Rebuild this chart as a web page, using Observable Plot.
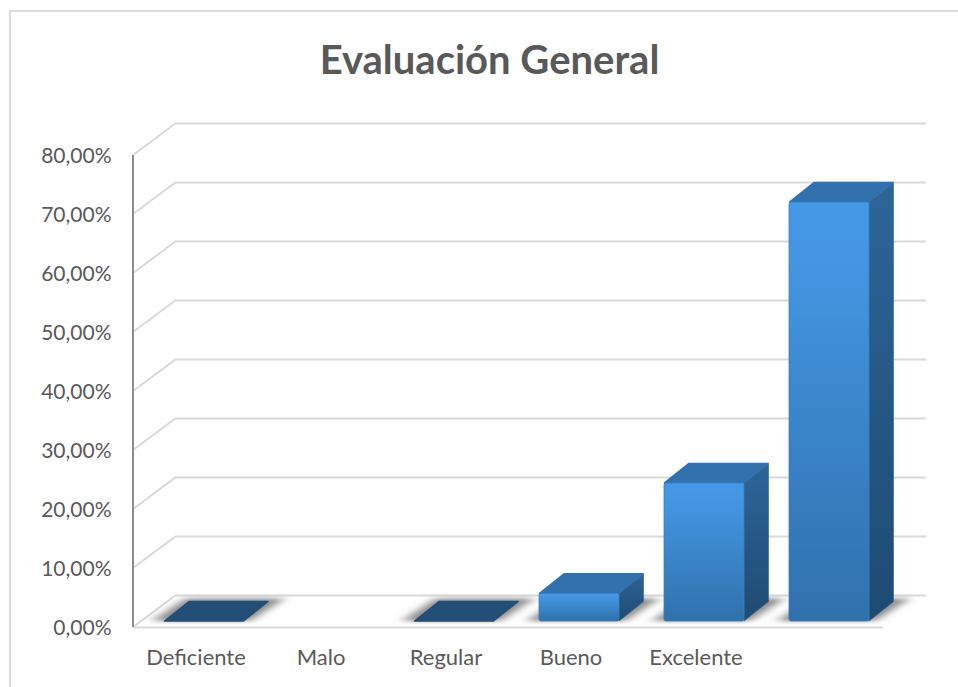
<!DOCTYPE html>
<html lang="es">
<head>
<meta charset="utf-8">
<script src="https://cdn.jsdelivr.net/npm/d3@7"></script>
<script src="https://cdn.jsdelivr.net/npm/@observablehq/plot@0.6"></script>
<style>
  html, body { margin: 0; padding: 0; background: #fff; overflow: hidden; }
  #frame { position: absolute; left: 9px; top: 10px; right: 0; bottom: 0;
           border-left: 2px solid #dcdcdc; border-top: 2px solid #dcdcdc; pointer-events: none; }
  #title { height: 100px; box-sizing: border-box; padding-top: 36px; padding-left: 21px; text-align: center;
           font: 700 40px/46px Lato, sans-serif; color: #595959; }
  #chart svg { display: block; }
</style>
</head>
<body>
<div id="frame"></div>
<div id="title">Evaluación General</div>
<div id="chart"></div>
<script>
const categories = ["Deficiente", "Malo", "Regular", "Bueno", "Excelente", " "];
const values = [0, null, 0, 4.7, 23.4, 71];
const yTicks = [0, 10, 20, 30, 40, 50, 60, 70, 80];

const rows = categories.map((category, i) => ({category, value: values[i]}));
const drawn = rows.filter(d => d.value !== null);

// Pseudo-3D projection, in pixels
const wall = {dx: 43, dy: -32};   // depth of the floor
const bar = {dx: 24.5, dy: -19.5};    // depth of a column
const inset = {dx: 8.5, dy: -6};    // where a column stands on the floor

const fmt = d => d.toFixed(2).replace(".", ",") + "%";
const poly = pts => pts.map(p => p.join(",")).join(" ");

const defs = () => {
  const g = d3.create("svg:defs");
  const grad = (id, stops) => {
    const l = g.append("linearGradient").attr("id", id).attr("x1", 0).attr("x2", 0).attr("y1", 0).attr("y2", 1);
    stops.forEach(([o, c]) => l.append("stop").attr("offset", o).attr("stop-color", c));
  };
  grad("front", [[0, "#4498e6"], [0.12, "#4496e3"], [1, "#2f71ac"]]);
  grad("side", [[0, "#2d6598"], [1, "#1e4a72"]]);
  const f = g.append("filter").attr("id", "soft").attr("x", "-30%").attr("y", "-30%").attr("width", "160%").attr("height", "160%");
  f.append("feGaussianBlur").attr("stdDeviation", "6 2");
  return g.node();
};

const walls = (index, {y}, channels, {marginLeft}) => {
  const g = d3.create("svg:g").attr("stroke", "#d9d9d9").attr("stroke-width", 2);
  for (const t of yTicks) {
    g.append("line")
      .attr("x1", marginLeft).attr("x2", marginLeft + wall.dx)
      .attr("y1", y(t)).attr("y2", y(t) + wall.dy);
  }
  return g.node();
};

const footprint = (d, {x, y}) => {
  const x0 = x(d.category) + inset.dx, w = x.bandwidth(), y0 = y(0) + inset.dy;
  return {x0, w, y0, top: y(d.value) + inset.dy};
};

const shadows = (index, scales) => {
  const g = d3.create("svg:g").attr("filter", "url(#soft)").attr("fill", "#8a8a8a");
  for (const d of drawn) {
    const {x0, w, y0} = footprint(d, scales);
    g.append("polygon").attr("points", poly([
      [x0 - 12, y0], [x0 + w + 6, y0],
      [x0 + w + bar.dx + 16, y0 + bar.dy - 3], [x0 + bar.dx - 3, y0 + bar.dy - 3]
    ]));
  }
  return g.node();
};

const sides = (index, scales) => {
  const g = d3.create("svg:g");
  for (const d of drawn.filter(d => d.value > 0)) {
    const {x0, w, y0, top} = footprint(d, scales);
    g.append("polygon").attr("fill", "url(#side)").attr("stroke", "#2a5f90").attr("stroke-width", 0.6)
      .attr("points", poly([
        [x0 + w, y0], [x0 + w, top],
        [x0 + w + bar.dx, top + bar.dy], [x0 + w + bar.dx, y0 + bar.dy]
      ]));
  }
  return g.node();
};

const tops = (index, scales) => {
  const g = d3.create("svg:g").attr("stroke-linejoin", "round").attr("stroke-width", 1.5);
  for (const d of drawn) {
    const {x0, w, top} = footprint(d, scales);
    const c = d.value > 0 ? "#3370ae" : "#234e78";
    g.append("polygon").attr("fill", c).attr("stroke", c)
      .attr("points", poly([
        [x0 + 0.5, top], [x0 + w - 0.5, top],
        [x0 + w + bar.dx - 0.5, top + bar.dy], [x0 + bar.dx + 0.5, top + bar.dy]
      ]));
  }
  return g.node();
};

const plot = Plot.plot({
  width: 958,
  height: 587,
  marginTop: 55,
  marginBottom: 60,
  marginLeft: 133,
  marginRight: 75,
  style: {background: "transparent", fontFamily: "Lato, sans-serif", overflow: "visible"},
  x: {domain: categories, paddingInner: 0.36, paddingOuter: 0.18, round: false, label: null},
  y: {domain: [0, 80], label: null},
  marks: [
    defs,
    Plot.ruleY(yTicks, {stroke: "#d9d9d9", strokeWidth: 2, dx: wall.dx, dy: wall.dy}),
    walls,
    shadows,
    Plot.ruleY([0], {stroke: "#d9d9d9", strokeWidth: 2}),
    sides,
    tops,
    Plot.barY(drawn.filter(d => d.value > 0), {
      x: "category", y: "value", dx: inset.dx, dy: inset.dy,
      fill: "url(#front)", stroke: "#3a7fbf", strokeWidth: 0.8, rx: 2
    }),
    Plot.axisY({
      ticks: yTicks, tickFormat: fmt, tickSize: 0, tickPadding: 22, dy: 1,
      fontSize: 21, color: "#595959", label: null
    }),
    Plot.axisX({
      tickSize: 0, tickPadding: 22, fontSize: 22, color: "#595959", label: null
    }),
    (index, {y}, channels, {marginLeft}) => {
      const l = d3.create("svg:line")
        .attr("x1", marginLeft).attr("x2", marginLeft)
        .attr("y1", y(80)).attr("y2", y(0))
        .attr("stroke", "#8c8c8c").attr("stroke-width", 2);
      return l.node();
    }
  ]
});
document.getElementById("chart").appendChild(plot);
</script>
</body>
</html>
